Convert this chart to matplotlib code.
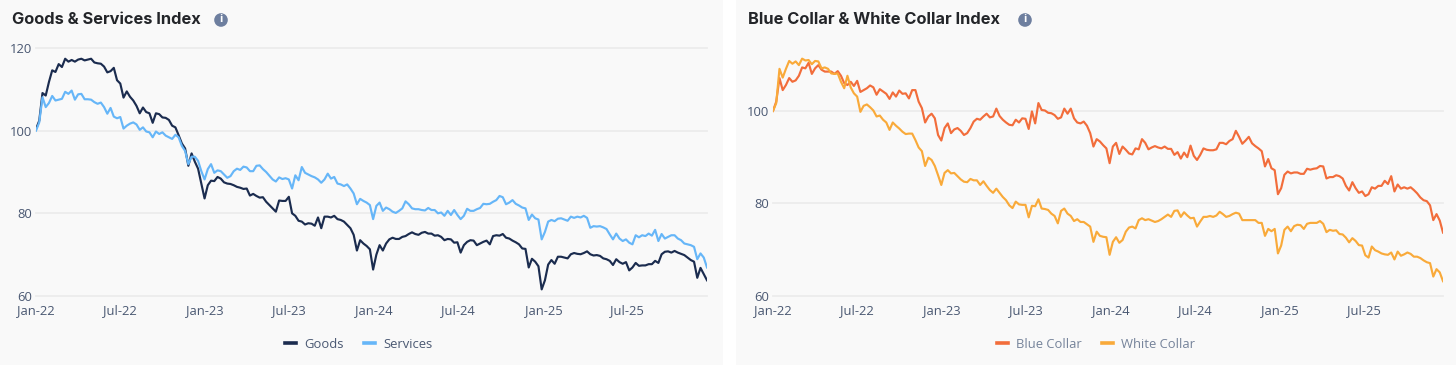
import matplotlib
matplotlib.use('Agg')
import matplotlib.pyplot as plt
import matplotlib.patches as mpatches
from matplotlib.transforms import IdentityTransform
import pandas as pd

# weekly index values
goods = [100.4, 102.4, 109.1, 108.5, 111.8, 114.6, 114.2, 116.1, 115.4, 117.4,
         116.7, 117.1, 116.7, 117.2, 117.4, 117.0, 117.2, 117.4, 116.5, 116.3,
         116.2, 115.5, 114.1, 114.4, 115.2, 112.2, 111.4, 108.0, 109.5, 108.2,
         107.3, 106.0, 104.2, 105.6, 104.5, 104.2, 101.9, 104.2, 104.0, 103.2,
         103.1, 102.6, 101.2, 100.8, 98.9, 96.9, 95.7, 91.5, 94.5, 92.5,
         90.8, 87.2, 83.6, 86.8, 87.9, 87.8, 88.8, 88.4, 87.5, 87.2,
         87.1, 86.8, 86.4, 86.2, 85.9, 86.0, 84.3, 84.7, 84.2, 83.8,
         83.9, 82.8, 82.0, 81.2, 80.4, 83.1, 83.0, 83.0, 84.0, 80.0,
         79.4, 78.2, 78.0, 77.3, 77.6, 77.5, 77.0, 79.0, 76.4, 79.2,
         79.2, 79.0, 79.4, 78.6, 78.4, 78.0, 77.2, 76.4, 74.8, 71.0,
         73.5, 72.7, 72.1, 71.3, 66.4, 70.0, 72.3, 71.0, 72.7, 73.7,
         74.1, 73.8, 73.8, 74.3, 74.5, 75.0, 75.4, 75.0, 74.8, 75.3,
         75.5, 75.1, 75.1, 74.6, 74.7, 74.3, 73.5, 73.8, 73.7, 72.9,
         73.0, 70.5, 72.3, 73.1, 73.5, 73.4, 72.3, 72.7, 73.1, 73.4,
         72.5, 74.5, 74.7, 74.6, 75.0, 74.1, 73.9, 73.4, 73.0, 72.5,
         71.5, 71.4, 66.9, 69.0, 68.3, 67.2, 61.6, 63.8, 67.6, 68.7,
         67.8, 69.5, 69.5, 69.3, 69.1, 70.1, 70.4, 70.2, 70.1, 70.4,
         70.8, 70.1, 69.8, 69.9, 69.7, 69.1, 68.9, 68.5, 67.5, 68.9,
         68.2, 67.8, 68.2, 66.2, 66.9, 68.0, 67.3, 67.4, 67.4, 67.7,
         67.7, 68.5, 68.0, 70.1, 70.7, 70.8, 70.5, 70.9, 70.5, 70.2,
         69.9, 69.3, 68.7, 68.3, 64.4, 66.8, 65.3, 63.8]
services = [100.0, 102.0, 108.1, 105.7, 106.7, 108.4, 107.3, 107.5, 107.7, 109.4,
            108.9, 109.7, 107.5, 108.8, 108.9, 107.6, 107.6, 107.5, 106.9, 106.5,
            106.8, 105.7, 104.1, 105.5, 103.4, 103.0, 103.3, 100.5, 101.2, 101.7,
            102.0, 101.5, 100.2, 100.8, 99.8, 99.6, 98.4, 99.8, 99.2, 99.6,
            98.8, 98.4, 98.0, 99.0, 98.4, 96.3, 95.1, 91.9, 93.7, 93.7,
            92.7, 90.2, 88.2, 90.7, 91.9, 89.8, 90.4, 90.2, 89.4, 88.6,
            89.0, 90.2, 90.8, 90.5, 91.3, 91.1, 90.2, 90.2, 91.5, 91.6,
            90.7, 90.0, 89.1, 88.2, 87.7, 88.7, 88.3, 88.5, 88.2, 86.0,
            89.2, 88.0, 91.2, 89.8, 89.4, 89.0, 88.7, 88.2, 87.4, 88.2,
            89.6, 88.4, 88.8, 87.2, 87.0, 86.6, 87.0, 86.0, 84.8, 82.2,
            83.5, 83.0, 82.6, 82.0, 78.6, 81.8, 82.6, 80.6, 81.4, 81.0,
            80.4, 80.1, 80.6, 81.2, 82.9, 82.2, 81.2, 81.0, 81.0, 80.8,
            80.7, 81.3, 80.8, 80.8, 80.0, 80.2, 79.4, 80.6, 79.6, 80.8,
            79.6, 78.6, 79.4, 81.1, 80.6, 80.6, 81.0, 81.3, 82.3, 82.2,
            82.3, 82.8, 83.2, 84.2, 83.9, 82.2, 82.6, 83.2, 82.3, 81.9,
            81.4, 81.2, 78.4, 79.7, 78.8, 78.5, 73.7, 75.5, 78.0, 78.4,
            78.1, 78.7, 78.8, 78.5, 78.2, 79.2, 78.9, 79.2, 79.0, 79.4,
            78.9, 76.5, 76.9, 76.8, 76.9, 76.6, 76.2, 74.9, 73.7, 75.1,
            73.9, 73.3, 73.7, 72.9, 72.5, 74.7, 74.2, 74.7, 74.5, 75.1,
            74.6, 76.0, 73.3, 75.0, 73.9, 74.3, 74.7, 74.7, 73.9, 73.5,
            72.7, 72.5, 72.3, 71.9, 68.9, 70.3, 69.3, 66.9]
blue_collar = [100.0, 102.0, 107.1, 104.5, 105.6, 107.1, 106.3, 106.6, 107.6, 109.4,
               109.2, 110.4, 108.0, 109.2, 109.9, 108.9, 108.5, 108.5, 108.5, 108.0,
               108.6, 107.6, 106.0, 105.6, 106.3, 105.4, 106.5, 104.1, 104.5, 104.9,
               105.5, 105.1, 103.5, 104.7, 104.2, 103.7, 102.6, 104.0, 103.1, 104.4,
               103.7, 103.8, 102.7, 104.5, 104.5, 102.0, 100.6, 97.5, 98.8, 99.4,
               98.4, 94.8, 93.6, 96.3, 97.3, 95.2, 96.0, 96.3, 95.7, 94.8,
               95.2, 96.3, 97.7, 98.3, 98.1, 98.8, 99.4, 98.6, 98.8, 100.5,
               98.9, 98.1, 97.5, 97.0, 96.9, 98.1, 97.5, 98.4, 98.3, 96.1,
               99.9, 97.3, 101.7, 100.2, 100.1, 99.6, 99.5, 99.1, 98.3, 98.6,
               100.5, 99.4, 100.5, 98.4, 97.5, 97.3, 97.7, 96.8, 95.2,
               92.3, 93.9, 93.4, 92.6, 91.9, 88.7, 92.3, 93.1, 90.7, 92.3,
               91.6, 90.8, 90.6, 91.9, 91.7, 93.9, 93.1, 91.7, 92.1, 92.4,
               92.1, 91.9, 92.3, 91.8, 91.8, 90.5, 91.1, 89.7, 91.0, 90.0,
               92.5, 90.3, 89.4, 90.5, 91.9, 91.6, 91.5, 91.5, 91.7, 93.1,
               93.1, 92.8, 93.5, 93.9, 95.7, 94.4, 92.9, 93.6, 94.4, 93.0,
               92.4, 91.9, 91.3, 88.0, 89.6, 87.6, 87.2, 82.0, 83.3, 86.2,
               86.9, 86.5, 86.7, 86.7, 86.4, 86.4, 87.5, 87.3, 87.5, 87.6,
               88.1, 88.0, 85.4, 85.7, 85.7, 86.1, 85.9, 85.4, 83.8, 82.8,
               84.6, 83.3, 82.3, 82.6, 81.6, 82.0, 83.5, 83.2, 83.8, 83.8,
               84.9, 84.2, 85.9, 82.6, 84.1, 83.2, 83.5, 83.2, 83.5, 82.9,
               82.2, 81.3, 80.7, 80.5, 79.6, 76.4, 77.7, 76.3, 73.7]
white_collar = [100.0, 101.7, 109.1, 107.2, 109.1, 110.8, 110.2, 110.7, 109.9, 111.3,
                110.9, 111.0, 110.1, 110.8, 110.7, 109.2, 109.4, 109.1, 108.1, 108.0,
                108.1, 106.3, 104.9, 107.6, 105.1, 103.8, 103.1, 99.8, 101.1, 101.4,
                100.8, 100.1, 98.8, 99.0, 98.1, 97.5, 95.9, 97.5, 96.8, 96.2,
                95.5, 95.0, 95.1, 95.1, 93.7, 92.1, 91.3, 88.1, 89.9, 89.4,
                88.1, 86.1, 84.0, 86.6, 87.2, 86.5, 86.6, 85.9, 85.2, 84.7,
                84.6, 85.3, 85.0, 85.0, 84.0, 84.8, 83.8, 82.9, 82.3, 83.2,
                82.3, 81.4, 80.7, 79.6, 79.0, 80.4, 79.8, 79.7, 79.7, 77.0,
                79.5, 79.4, 80.9, 78.9, 78.8, 78.6, 77.8, 77.3, 75.7, 78.4,
                78.9, 77.8, 77.3, 76.2, 76.6, 76.0, 76.0, 75.5, 75.0,
                71.7, 73.9, 73.0, 72.8, 72.7, 68.9, 71.7, 72.7, 71.5, 72.1,
                73.9, 74.8, 75.0, 74.6, 76.4, 76.8, 76.4, 76.6, 76.3, 76.0,
                76.2, 76.6, 77.1, 77.6, 77.1, 78.4, 78.5, 77.1, 78.1, 77.4,
                76.8, 76.9, 75.0, 76.1, 77.1, 77.1, 77.3, 77.1, 77.4, 78.2,
                77.7, 77.1, 77.3, 77.7, 78.0, 77.8, 76.4, 76.4, 76.4, 76.4,
                76.4, 75.8, 75.8, 73.0, 74.5, 74.0, 74.5, 69.2, 70.9, 74.3,
                75.0, 74.0, 75.1, 75.4, 75.3, 74.5, 75.6, 75.8, 75.8, 75.8,
                76.2, 75.6, 73.8, 74.3, 74.1, 74.2, 73.4, 73.3, 72.6, 71.6,
                72.5, 71.9, 71.0, 70.9, 68.8, 68.3, 70.7, 69.9, 69.6, 69.2,
                69.0, 68.9, 69.4, 67.9, 69.6, 68.7, 69.0, 69.4, 69.1, 68.5,
                68.5, 68.2, 67.7, 67.3, 67.1, 64.2, 65.8, 65.1, 63.2]

tick_dates = pd.to_datetime(['2022-01-01', '2022-07-01', '2023-01-01', '2023-07-01',
                             '2024-01-01', '2024-07-01', '2025-01-01', '2025-07-01'])
tick_labels = ['Jan-22', 'Jul-22', 'Jan-23', 'Jul-23', 'Jan-24', 'Jul-24', 'Jan-25', 'Jul-25']
weeks = pd.date_range('2022-01-01', periods=len(goods), freq='7D')

W, H = 1456, 365
LABEL = '#4a5872'
plt.rcParams['font.family'] = ['Open Sans', 'DejaVu Sans']
fig = plt.figure(figsize=(W / 100, H / 100), dpi=100, facecolor='white')


def add_panel(x0, x1):
    fig.patches.append(mpatches.Rectangle((x0 / W, 0), (x1 - x0) / W, 1, transform=fig.transFigure,
                                          facecolor='#f9f9f9', edgecolor='none', zorder=-5))


def make_chart(x0, x1, ytop, ymax, yticks, series, title, title_x, icon_x, legend_x, legend_color):
    ax = fig.add_axes([x0 / W, (H - 296) / H, (x1 - x0) / W, (296 - ytop) / H])
    ax.patch.set_alpha(0)
    for v, c, lab in series:
        ax.plot(weeks[:len(v)], v, color=c, lw=1.55, label=lab, solid_joinstyle='round', zorder=3)
    ax.set_xlim(weeks[0], weeks[-1])
    ax.set_ylim(60, ymax)
    ax.set_xticks(tick_dates)
    ax.set_xticklabels(tick_labels)
    ax.set_yticks(yticks)
    ax.grid(axis='y', color='#ececec', lw=1.3)
    ax.set_axisbelow(True)
    ax.tick_params(length=0, labelsize=9.4, labelcolor=LABEL)
    ax.tick_params(axis='x', pad=6)
    ax.tick_params(axis='y', pad=3)
    for sp in ax.spines.values():
        sp.set_visible(False)
    for g in ax.get_ygridlines():
        g.set_clip_on(False)
    fig.text(title_x / W, (H - 20) / H, title, fontsize=11.8, fontweight='bold', family='Inter',
             color='#232529', va='center', ha='left')
    fig.patches.append(mpatches.Circle((icon_x, H - 20), 6.8, transform=IdentityTransform(),
                                       facecolor='#6e7f9f', edgecolor='none'))
    fig.text(icon_x / W, (H - 20) / H, 'i', fontsize=8, fontweight='bold', color='white',
             ha='center', va='center')
    leg = ax.legend(loc='center', bbox_to_anchor=(legend_x / W, (H - 344) / H),
                    bbox_transform=fig.transFigure, ncol=2, frameon=False, fontsize=9.4,
                    handlelength=0.85, handletextpad=0.62, columnspacing=1.55, labelcolor=legend_color)
    for h in leg.get_lines():
        h.set_linewidth(2.6)
    return ax


add_panel(0, 723)
add_panel(736, 1456)
make_chart(36, 707, 48, 120, [60, 80, 100, 120],
           [(goods, '#1b2c4f', 'Goods'), (services, '#66b6f8', 'Services')],
           'Goods & Services Index', 12, 221, 359, LABEL)
make_chart(773, 1443, 48, 113.6, [60, 80, 100],
           [(blue_collar, '#f26d3b', 'Blue Collar'), (white_collar, '#f9aa3a', 'White Collar')],
           'Blue Collar & White Collar Index', 748, 1025, 1096, '#75839a')

fig.savefig('out.png', dpi=100, facecolor='white')
